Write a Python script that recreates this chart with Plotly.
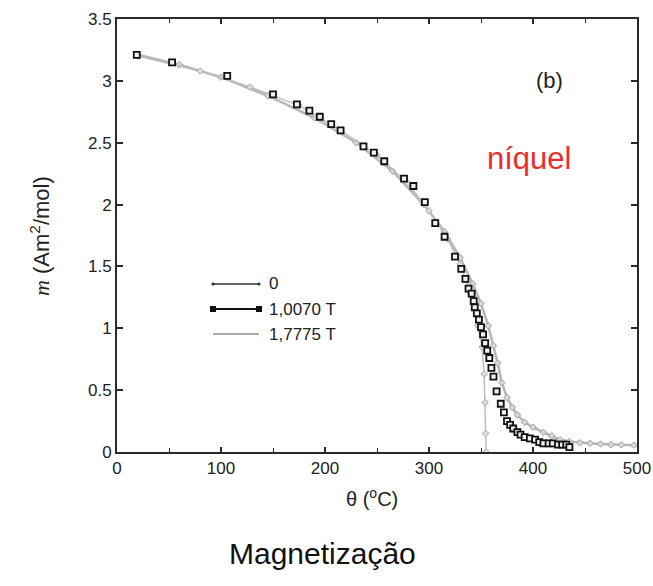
import plotly.graph_objects as go

# Magnetização do níquel vs temperatura, três campos aplicados
labels = ["0", "1,0070 T", "1,7775 T"]

theta_0 = [20, 80, 128, 175, 215, 250, 280, 300, 318, 330, 340, 347, 351, 353, 354, 354.5, 355]
m_0 = [3.20, 3.08, 2.95, 2.80, 2.60, 2.40, 2.17, 1.95, 1.72, 1.52, 1.28, 1.02, 0.85, 0.63, 0.40, 0.15, 0.0]

theta_1 = [19, 53, 106, 150, 173, 185, 195, 206, 215, 237, 247, 257, 276, 285, 296,
           306, 315, 325, 331, 335, 338, 341, 343, 344, 346, 348, 350, 352, 354, 356,
           358, 360, 362, 365, 369, 372, 375, 378, 381, 385, 388, 392, 397, 402, 406,
           410, 415, 419, 424, 428, 432, 435]
m_1 = [3.21, 3.15, 3.04, 2.89, 2.81, 2.76, 2.71, 2.65, 2.60, 2.47, 2.42, 2.35, 2.21, 2.15, 2.02,
       1.85, 1.74, 1.58, 1.48, 1.40, 1.32, 1.28, 1.22, 1.17, 1.12, 1.07, 1.01, 0.95, 0.88, 0.82,
       0.76, 0.68, 0.61, 0.49, 0.39, 0.32, 0.25, 0.22, 0.19, 0.16, 0.14, 0.12, 0.11, 0.10, 0.08,
       0.07, 0.07, 0.07, 0.06, 0.06, 0.06, 0.04]

theta_2 = [20, 60, 100, 145, 190, 230, 265, 295, 315, 330, 342, 350, 357, 362, 366, 370,
           375, 380, 385, 392, 400, 410, 418, 426, 435, 445, 455, 465, 475, 485, 497]
m_2 = [3.21, 3.13, 3.03, 2.88, 2.70, 2.50, 2.27, 2.00, 1.78, 1.57, 1.36, 1.20, 1.02, 0.86, 0.72, 0.56,
       0.44, 0.36, 0.30, 0.24, 0.20, 0.16, 0.13, 0.10, 0.085, 0.075, 0.07, 0.065, 0.06, 0.058, 0.055]

x_ticks = [0, 100, 200, 300, 400, 500]
y_ticks = [0, 0.5, 1, 1.5, 2, 2.5, 3, 3.5]
y_ticklabels = ["0", "0.5", "1", "1.5", "2", "2.5", "3", "3.5"]

FONT = "Liberation Sans, Arial, Helvetica, sans-serif"
AXIS = "#2a2a2a"
TXT = "#222222"

fig = go.Figure()

fig.add_trace(go.Scatter(
    x=theta_2, y=m_2, mode="lines+markers", name=labels[2],
    line=dict(color="#b8b8b8", width=2.6),
    marker=dict(symbol="diamond", size=5, color="#d8d8d8", line=dict(color="#a0a0a0", width=1)),
    showlegend=False,
))
fig.add_trace(go.Scatter(
    x=theta_0, y=m_0, mode="lines+markers", name=labels[0],
    line=dict(color="#bdbdbd", width=1.5),
    marker=dict(symbol="diamond", size=5, color="#dcdcdc", line=dict(color="#a8a8a8", width=1)),
    showlegend=False,
))
fig.add_trace(go.Scatter(
    x=theta_1, y=m_1, mode="markers", name=labels[1],
    marker=dict(symbol="square", size=6, color="#f2f2f2", line=dict(color="#111111", width=1.8)),
    showlegend=False,
))

# Plot area in pixels: x 117..637, y 19..452
def px_x(p):
    return (p - 117) / 520.0

def px_y(p):
    return (452 - p) / 433.0

# Legend drawn as line samples with end markers
leg_rows = [284, 309, 334]
leg_styles = [
    dict(color="#333333", width=1.3, end="dot"),
    dict(color="#111111", width=2.2, end="square"),
    dict(color="#555555", width=1.0, end="none"),
]
x0, x1 = px_x(213), px_x(259)
shapes = []
for row, st in zip(leg_rows, leg_styles):
    yy = px_y(row)
    shapes.append(dict(type="line", xref="paper", yref="paper", x0=x0, x1=x1, y0=yy, y1=yy,
                       line=dict(color=st["color"], width=st["width"])))
    if st["end"] != "none":
        r = 3 if st["end"] == "square" else 1.6
        for xe in (213, 259):
            shapes.append(dict(type="rect" if st["end"] == "square" else "circle",
                               xref="paper", yref="paper",
                               x0=px_x(xe - r), x1=px_x(xe + r),
                               y0=px_y(row + r), y1=px_y(row - r),
                               fillcolor=st["color"], line=dict(width=0)))

annotations = []
for row, lab in zip(leg_rows, labels):
    annotations.append(dict(x=px_x(267), y=px_y(row), xref="paper", yref="paper",
                            text=lab, showarrow=False, xanchor="left", yanchor="middle",
                            font=dict(family=FONT, size=17, color=TXT)))

annotations += [
    dict(x=px_x(549), y=px_y(80), xref="paper", yref="paper", text="(b)", showarrow=False,
         xanchor="center", yanchor="middle", font=dict(family=FONT, size=22, color=TXT)),
    dict(x=px_x(529), y=px_y(158), xref="paper", yref="paper", text="níquel", showarrow=False,
         xanchor="center", yanchor="middle", font=dict(family=FONT, size=31, color="#ee2b2b")),
    dict(x=px_x(322), y=px_y(553), xref="paper", yref="paper", text="Magnetização", showarrow=False,
         xanchor="center", yanchor="middle", font=dict(family=FONT, size=30, color="#111111")),
    dict(x=px_x(372), y=px_y(497), xref="paper", yref="paper",
         text="θ (<sup>o</sup>C)", showarrow=False,
         xanchor="center", yanchor="middle", font=dict(family=FONT, size=20, color=TXT)),
    dict(x=px_x(40), y=px_y(236), xref="paper", yref="paper",
         text="<i><span style='font-family:Liberation Serif, Times New Roman, serif'>m</span></i> (Am<sup>2</sup>/mol)",
         showarrow=False, textangle=-90,
         xanchor="center", yanchor="middle", font=dict(family=FONT, size=22, color=TXT)),
]

fig.update_layout(
    width=653, height=586,
    margin=dict(l=117, r=16, t=19, b=134, autoexpand=False),
    paper_bgcolor="white", plot_bgcolor="white",
    font=dict(family=FONT, size=17, color=TXT),
    shapes=shapes, annotations=annotations,
    showlegend=False,
)
fig.update_xaxes(
    range=[0, 500], tickvals=x_ticks, ticks="inside", ticklen=5, tickwidth=1.5, tickcolor=AXIS,
    minor=dict(dtick=50, ticks="inside", ticklen=4, tickwidth=1.3, tickcolor=AXIS),
    showline=True, linecolor=AXIS, linewidth=2, mirror="ticks", automargin=False,
    showgrid=False, zeroline=False, tickfont=dict(size=17, color=TXT),
)
fig.update_yaxes(
    range=[0, 3.5], tickvals=y_ticks, ticktext=y_ticklabels, ticks="inside", ticklen=6,
    tickwidth=1.5, tickcolor=AXIS, automargin=False,
    showline=True, linecolor=AXIS, linewidth=2, mirror="ticks",
    showgrid=False, zeroline=False, tickfont=dict(size=17, color=TXT),
)

fig.write_html("out.html")
